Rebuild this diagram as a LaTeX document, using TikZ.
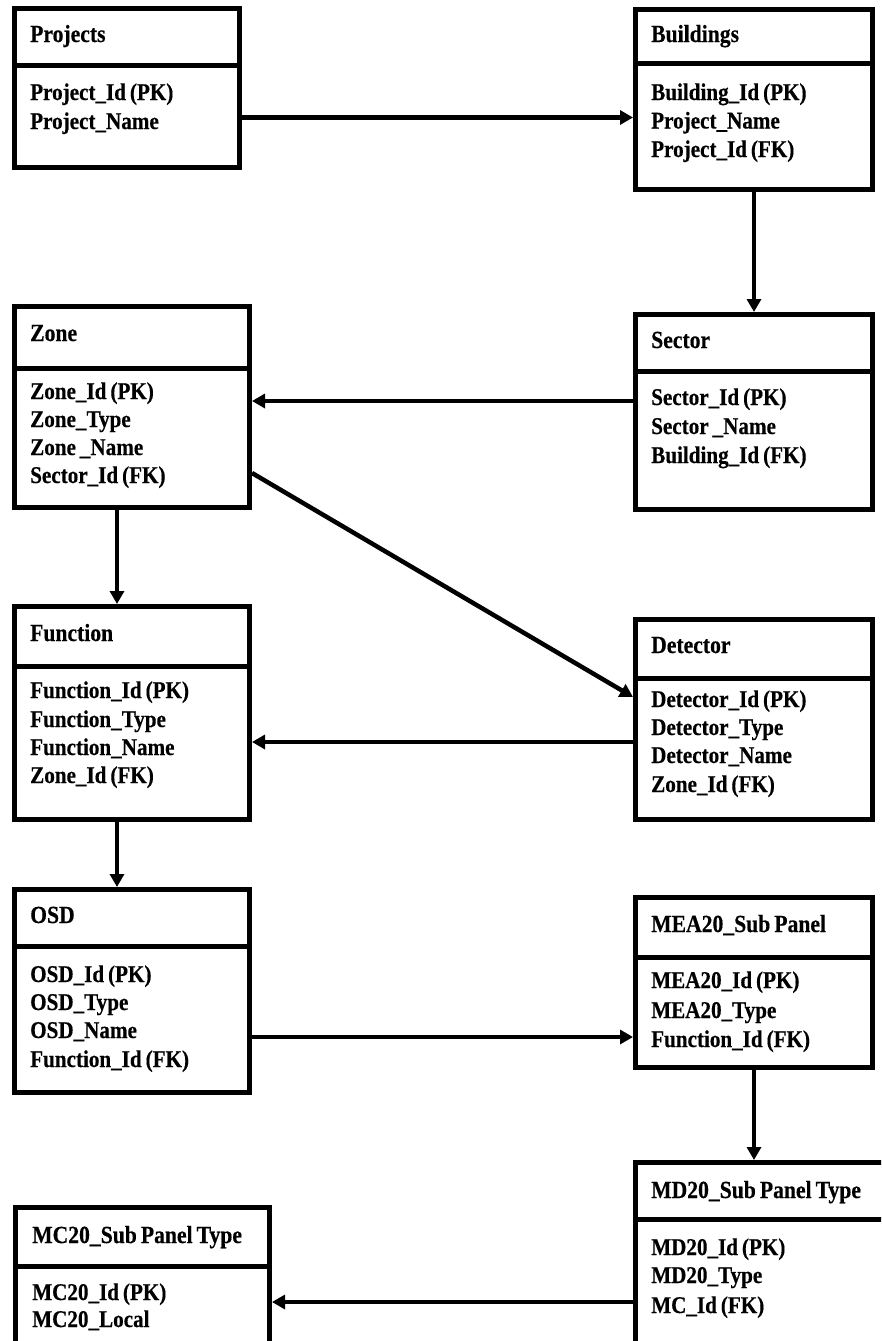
\documentclass[tikz,border=0pt]{standalone}
\usepackage{fontspec}
\setmainfont{Liberation Serif}[FakeStretch=0.88, WordSpace=0.75, BoldFeatures={FakeBold=0.4}]
\usetikzlibrary{arrows.meta}

% one table: name, left, top, right, bottom (centre line of the frame), divider y
\newcommand{\erbox}[6]{%
  \node[tbl, minimum width={#4-#2}, minimum height={#5-#3}] (#1) at ({(#2+#4)/2},{(#3+#5)/2}) {};
  \draw[sep] (#1.west |- 0,#6) -- (#1.east |- 0,#6);
}

\begin{document}
\begin{tikzpicture}[x=1pt, y=-1pt,
  tbl/.style={draw, line width=5pt, rectangle, inner sep=0pt, fill=white},
  sep/.style={line width=5pt},
  txt/.style={anchor=base west, inner sep=0pt, font=\fontsize{24}{28}\selectfont\bfseries},
  head/.style={txt, font=\fontsize{24.6}{28}\selectfont\bfseries},
  link/.style={line width=4.5pt, -{Triangle[length=13pt, width=14pt]}}
]
\useasboundingbox (0,0) rectangle (881,1341);
\clip (0,0) rectangle (881,1341);

% ---------- tables ----------
\erbox{proj}{14}{8.5}{239.5}{167.5}{65.5}
\erbox{bld}{635.5}{9.5}{872.5}{189.5}{63.5}
\erbox{zone}{14.5}{306.5}{249.5}{507.5}{368.5}
\erbox{sec}{635.5}{314.5}{872.5}{509.5}{371.5}
\erbox{fun}{14.5}{606.5}{249.5}{819.5}{666.5}
\erbox{det}{635.5}{619.5}{872.5}{819.5}{678.5}
\erbox{osd}{14.5}{889.5}{249.5}{1092.5}{946.5}
\erbox{mea}{635.5}{897.5}{872.5}{1067.5}{957.5}
\erbox{md}{635.5}{1162.5}{910}{1380}{1219.5}
\erbox{mc}{15.5}{1207.5}{269.5}{1380}{1266.5}

% ---------- texts ----------
\node[head] (proj-t)  at (30,42)  {Projects};
\node[txt] (proj-f1) at (30,100) {Project\_Id (PK)};
\node[txt] (proj-f2) at (30,129) {Project\_Name};

\node[head] (bld-t)  at (651,42)    {Buildings};
\node[txt] (bld-f1) at (651,100)   {Building\_Id (PK)};
\node[txt] (bld-f2) at (651,128.5) {Project\_Name};
\node[txt] (bld-f3) at (651,157)   {Project\_Id (FK)};

\node[head] (zone-t)  at (30,341) {Zone};
\node[txt] (zone-f1) at (30,399) {Zone\_Id (PK)};
\node[txt] (zone-f2) at (30,427) {Zone\_Type};
\node[txt] (zone-f3) at (30,455) {Zone \_Name};
\node[txt] (zone-f4) at (30,483) {Sector\_Id (FK)};

\node[head] (sec-t)  at (651,348) {Sector};
\node[txt] (sec-f1) at (651,405) {Sector\_Id (PK)};
\node[txt] (sec-f2) at (651,434) {Sector \_Name};
\node[txt] (sec-f3) at (651,463) {Building\_Id (FK)};

\node[head] (fun-t)  at (30,641) {Function};
\node[txt] (fun-f1) at (30,698) {Function\_Id (PK)};
\node[txt] (fun-f2) at (30,727) {Function\_Type};
\node[txt] (fun-f3) at (30,755) {Function\_Name};
\node[txt] (fun-f4) at (30,783) {Zone\_Id (FK)};

\node[head] (det-t)  at (651,653) {Detector};
\node[txt] (det-f1) at (651,707) {Detector\_Id (PK)};
\node[txt] (det-f2) at (651,735) {Detector\_Type};
\node[txt] (det-f3) at (651,763) {Detector\_Name};
\node[txt] (det-f4) at (651,792) {Zone\_Id (FK)};

\node[head] (osd-t)  at (30,923)  {OSD};
\node[txt] (osd-f1) at (30,982)  {OSD\_Id (PK)};
\node[txt] (osd-f2) at (30,1010) {OSD\_Type};
\node[txt] (osd-f3) at (30,1038) {OSD\_Name};
\node[txt] (osd-f4) at (30,1067) {Function\_Id (FK)};

\node[head] (mea-t)  at (651,932)  {MEA20\_Sub Panel};
\node[txt] (mea-f1) at (651,988)  {MEA20\_Id (PK)};
\node[txt] (mea-f2) at (651,1018) {MEA20\_Type};
\node[txt] (mea-f3) at (651,1047) {Function\_Id (FK)};

\node[head] (md-t)  at (651,1198) {MD20\_Sub Panel Type};
\node[txt] (md-f1) at (651,1255) {MD20\_Id (PK)};
\node[txt] (md-f2) at (651,1283) {MD20\_Type};
\node[txt] (md-f3) at (651,1313) {MC\_Id (FK)};

\node[head] (mc-t)  at (32,1243) {MC20\_Sub Panel Type};
\node[txt] (mc-f1) at (32,1300) {MC20\_Id (PK)};
\node[txt] (mc-f2) at (32,1327) {MC20\_Local};

% ---------- relations ----------
\draw[link] (proj.east |- 0,117.5) -- (bld.west |- 0,117.5);
\draw[link] (bld.south) -- (sec.north);
\draw[link] (sec.west |- 0,401) -- (zone.east |- 0,401);
\draw[link] (zone.south -| 117,0) -- (fun.north -| 117,0);
\draw[link] (zone.east |- 0,473) -- (det.west |- 0,697);
\draw[link] (det.west |- 0,742) -- (fun.east |- 0,742);
\draw[link] (fun.south -| 117,0) -- (osd.north -| 117,0);
\draw[link] (osd.east |- 0,1037) -- (mea.west |- 0,1037);
\draw[link] (mea.south) -- (md.north -| mea.south);
\draw[link] (md.west |- 0,1302) -- (mc.east |- 0,1302);
\end{tikzpicture}
\end{document}
